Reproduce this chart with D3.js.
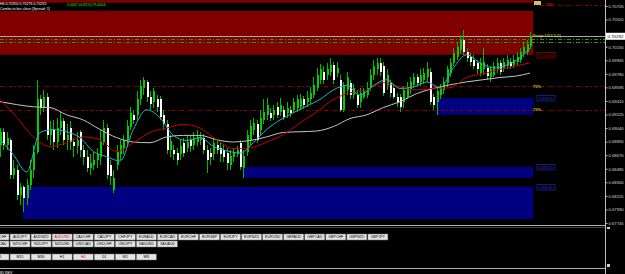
<!DOCTYPE html>
<html>
<head>
<meta charset="utf-8">
<script src="https://cdn.jsdelivr.net/npm/d3@7"></script>
<style>
html, body { margin: 0; padding: 0; background: #000; overflow: hidden; }
svg { display: block; font-family: "Liberation Sans", Arial, sans-serif; }
</style>
</head>
<body>
<svg id="chart" width="625" height="274"></svg>
<script>
// AUDUSD H4 candles
const open = [
  0.6881,0.6898,0.6881,0.6888,0.6840,0.6847,0.6813,0.6823,0.6809,0.6827,
  0.6847,0.6872,0.6943,0.6932,0.6947,0.6895,0.6902,0.6885,0.6904,0.6913,
  0.6888,0.6904,0.6885,0.6879,0.6898,0.6874,0.6865,0.6850,0.6854,0.6861,
  0.6864,0.6885,0.6904,0.6854,0.6820,0.6854,0.6868,0.6877,0.6888,0.6906,
  0.6922,0.6922,0.6943,0.6959,0.6967,0.6947,0.6939,0.6943,0.6943,0.6922,
  0.6909,0.6874,0.6874,0.6870,0.6868,0.6884,0.6877,0.6888,0.6881,0.6885,
  0.6888,0.6891,0.6874,0.6870,0.6868,0.6881,0.6877,0.6874,0.6870,0.6854,
  0.6865,0.6868,0.6884,0.6850,0.6872,0.6888,0.6902,0.6909,0.6902,0.6915,
  0.6922,0.6925,0.6922,0.6933,0.6926,0.6929,0.6925,0.6929,0.6929,0.6932,
  0.6933,0.6943,0.6939,0.6943,0.6949,0.6959,0.6970,0.6981,0.6977,0.6981,
  0.6990,0.6979,0.6970,0.6929,0.6956,0.6966,0.6949,0.6949,0.6939,0.6947,
  0.6949,0.6959,0.6977,0.6984,0.6993,0.6988,0.6963,0.6966,0.6959,0.6947,
  0.6947,0.6939,0.6947,0.6956,0.6963,0.6973,0.6967,0.6970,0.6973,0.6981,
  0.6947,0.6940,0.6949,0.6956,0.6966,0.6979,0.6993,0.7001,0.7011,0.7024,
  0.7008,0.7001,0.6997,0.6993,0.6979,0.6984,0.6986,0.6973,0.6977,0.6984,
  0.6993,0.6986,0.6989,0.6994,0.6990,0.6994,0.6997,0.7007,0.7008,0.7016
];
const high = [
  0.6904,0.6904,0.6899,0.6891,0.6861,0.6854,0.6829,0.6827,0.6834,0.6861,
  0.6881,0.6970,0.6949,0.6956,0.6952,0.6913,0.6915,0.6918,0.6926,0.6918,
  0.6909,0.6913,0.6891,0.6899,0.6902,0.6881,0.6874,0.6868,0.6872,0.6877,
  0.6902,0.6915,0.6909,0.6861,0.6847,0.6881,0.6888,0.6895,0.6915,0.6933,
  0.6929,0.6954,0.6970,0.6974,0.6970,0.6954,0.6959,0.6949,0.6948,0.6929,
  0.6915,0.6895,0.6881,0.6877,0.6888,0.6891,0.6895,0.6894,0.6899,0.6902,
  0.6899,0.6896,0.6881,0.6877,0.6891,0.6888,0.6885,0.6881,0.6877,0.6874,
  0.6877,0.6880,0.6888,0.6874,0.6902,0.6915,0.6918,0.6915,0.6929,0.6943,
  0.6945,0.6932,0.6936,0.6940,0.6945,0.6934,0.6939,0.6934,0.6945,0.6949,
  0.6951,0.6948,0.6954,0.6960,0.6973,0.6986,0.6992,0.6989,0.6993,0.7000,
  0.6994,0.6994,0.6977,0.6967,0.6981,0.6970,0.6964,0.6956,0.6959,0.6959,
  0.6967,0.6984,0.6997,0.7000,0.7000,0.6994,0.6984,0.6970,0.6964,0.6952,
  0.6951,0.6962,0.6967,0.6973,0.6979,0.6978,0.6984,0.6986,0.6994,0.6986,
  0.6951,0.6959,0.6964,0.6973,0.6989,0.7000,0.7013,0.7022,0.7031,0.7038,
  0.7013,0.7007,0.7003,0.6997,0.7000,0.7013,0.6992,0.6989,0.6994,0.7000,
  0.6997,0.7000,0.7004,0.7000,0.7003,0.7008,0.7013,0.7020,0.7024,0.7035
];
const low = [
  0.6864,0.6874,0.6874,0.6834,0.6834,0.6806,0.6799,0.6790,0.6799,0.6820,
  0.6836,0.6868,0.6922,0.6926,0.6888,0.6881,0.6874,0.6877,0.6895,0.6881,
  0.6874,0.6874,0.6864,0.6868,0.6864,0.6854,0.6844,0.6840,0.6847,0.6850,
  0.6854,0.6881,0.6834,0.6827,0.6816,0.6847,0.6861,0.6868,0.6881,0.6902,
  0.6909,0.6915,0.6936,0.6949,0.6940,0.6929,0.6932,0.6926,0.6915,0.6902,
  0.6868,0.6864,0.6861,0.6854,0.6861,0.6864,0.6872,0.6872,0.6874,0.6879,
  0.6881,0.6868,0.6843,0.6854,0.6861,0.6868,0.6858,0.6858,0.6847,0.6847,
  0.6858,0.6864,0.6847,0.6836,0.6866,0.6881,0.6895,0.6884,0.6895,0.6909,
  0.6915,0.6913,0.6915,0.6918,0.6921,0.6915,0.6918,0.6919,0.6924,0.6926,
  0.6929,0.6930,0.6933,0.6937,0.6945,0.6954,0.6964,0.6964,0.6970,0.6975,
  0.6964,0.6973,0.6926,0.6926,0.6949,0.6943,0.6943,0.6932,0.6932,0.6943,
  0.6945,0.6954,0.6970,0.6977,0.6975,0.6948,0.6956,0.6947,0.6943,0.6933,
  0.6926,0.6932,0.6943,0.6951,0.6959,0.6960,0.6962,0.6964,0.6967,0.6936,
  0.6929,0.6922,0.6944,0.6951,0.6960,0.6974,0.6988,0.6997,0.7005,0.7004,
  0.6994,0.6989,0.6984,0.6978,0.6975,0.6977,0.6970,0.6967,0.6973,0.6979,
  0.6977,0.6981,0.6984,0.6985,0.6986,0.6990,0.6993,0.7001,0.7004,0.7012
];
const close = [
  0.6898,0.6881,0.6891,0.6840,0.6850,0.6813,0.6823,0.6809,0.6827,0.6847,
  0.6872,0.6943,0.6932,0.6947,0.6895,0.6902,0.6885,0.6904,0.6913,0.6888,
  0.6895,0.6885,0.6879,0.6888,0.6874,0.6865,0.6850,0.6857,0.6861,0.6868,
  0.6885,0.6904,0.6840,0.6838,0.6836,0.6872,0.6881,0.6888,0.6907,0.6924,
  0.6915,0.6943,0.6962,0.6970,0.6947,0.6937,0.6954,0.6933,0.6919,0.6909,
  0.6874,0.6887,0.6868,0.6861,0.6880,0.6870,0.6885,0.6879,0.6891,0.6892,
  0.6892,0.6874,0.6861,0.6864,0.6884,0.6874,0.6868,0.6865,0.6857,0.6866,
  0.6872,0.6874,0.6851,0.6866,0.6894,0.6907,0.6911,0.6888,0.6918,0.6926,
  0.6936,0.6918,0.6929,0.6922,0.6936,0.6919,0.6932,0.6925,0.6939,0.6943,
  0.6943,0.6936,0.6945,0.6952,0.6963,0.6977,0.6984,0.6970,0.6984,0.6990,
  0.6970,0.6986,0.6929,0.6963,0.6973,0.6949,0.6959,0.6936,0.6952,0.6954,
  0.6959,0.6977,0.6988,0.6993,0.6981,0.6952,0.6977,0.6952,0.6947,0.6939,
  0.6933,0.6956,0.6960,0.6967,0.6973,0.6966,0.6977,0.6979,0.6984,0.6940,
  0.6936,0.6954,0.6959,0.6967,0.6984,0.6993,0.7007,0.7015,0.7024,0.7008,
  0.7000,0.6994,0.6988,0.6984,0.6993,0.6994,0.6975,0.6984,0.6988,0.6993,
  0.6981,0.6994,0.6997,0.6989,0.6997,0.7001,0.7008,0.7015,0.7019,0.70292
];

// moving averages, sampled every few bars
const maIdx = [0,5,10,15,20,25,30,35,40,45,50,55,60,65,70,75,80,85,90,95,100,105,110,115,120,125,130,135,140,145,150,155,159];
const maSlow = [0.6940,0.6936,0.6933,0.6932,0.6922,0.6915,0.6902,0.6891,0.6885,0.6884,0.6892,0.6894,0.6894,0.6888,0.6885,0.6887,0.6892,0.6898,0.6899,0.6900,0.6906,0.6917,0.6922,0.6932,0.6940,0.6951,0.6958,0.6963,0.6967,0.6970,0.6973,0.6975,0.6979];
const maMid = [0.6943,0.6919,0.6892,0.6879,0.6884,0.6892,0.6888,0.6872,0.6884,0.6898,0.6904,0.6909,0.6904,0.6888,0.6876,0.6877,0.6885,0.6895,0.6911,0.6926,0.6943,0.6952,0.6956,0.6966,0.6960,0.6956,0.6958,0.6959,0.6973,0.6978,0.6984,0.6989,0.6993];
const fastIdx = [0,4,8,12,16,20,24,28,32,36,40,44,48,52,56,60,64,68,72,76,80,84,88,92,96,100,104,108,112,116,120,124,128,132,136,140,144,148,152,156,159];
const maFast = [0.6888,0.6868,0.6844,0.6898,0.6902,0.6899,0.6891,0.6872,0.6865,0.6859,0.6902,0.6929,0.6918,0.6894,0.6887,0.6891,0.6879,0.6873,0.6870,0.6884,0.6902,0.6915,0.6925,0.6934,0.6943,0.6956,0.6962,0.6949,0.6962,0.6970,0.6958,0.6960,0.6967,0.6959,0.6986,0.7004,0.6993,0.6986,0.6990,0.7000,0.7013];

// supply / demand zones
const zoneStart  = [-10, -10, 131, 73, 7];
const zoneTop    = [0.7095, 0.7064, 0.6945, 0.6851, 0.6824];
const zoneBottom = [0.7075, 0.7004, 0.6922, 0.6836, 0.6780];
const zoneKind   = ["supply", "supply", "demand", "demand", "demand"];
const zoneLabel  = [false, true, true, true, true];

// horizontal levels
const redLevels = [0.7072, 0.69607, 0.69290];
const redLevelText = ["7051", "75%", "75%"];
const greenLevels = [0.70254, 0.70208];
const bid = 0.70292;

const priceTicks = [0.70705,0.70520,0.70335,0.70150,0.69965,0.69780,0.69595,0.69410,0.69225,0.69040,0.68855,0.68670,0.68485,0.68300,0.68115,0.67930,0.67745];

const pairsRow1 = ["AUDCHF","AUDJPY","AUDNZD","AUDUSD","CADCHF","CADJPY","CHFJPY","EURAUD","EURCAD","EURCHF","EURGBP","EURJPY","EURNZD","EURUSD","GBPAUD","GBPCAD","GBPCHF","GBPNZD","GBPJPY"];
const pairsRow2 = ["NZDCAD","NZDCHF","NZDJPY","NZDUSD","USDCAD","USDCHF","USDJPY","XAUUSD","XAUAUD"];
const timeframes = ["M5","M15","M30","H1","H4","D1","W1","MN"];
const activePair = "AUDUSD", activeTf = "H4";

const svg = d3.select("#chart");
const fmt = d3.format(".5f");

var x = d3.scaleLinear().domain([0, close.length - 1]).range([0, 530]);
var y = d3.scaleLinear().domain([0.67745, 0.70705]).range([223, 6]);

svg.append("rect").attr("width", 625).attr("height", 274).attr("fill", "#000");

svg.append("clipPath").attr("id", "plot").append("rect")
  .attr("x", 0).attr("y", 0).attr("width", 605).attr("height", 225);
var plot = svg.append("g").attr("clip-path", "url(#plot)");

// zones
plot.selectAll(".zone").data(zoneTop).enter().append("rect")
  .attr("class", "zone")
  .attr("x", (d, i) => x(zoneStart[i]) - 0.5)
  .attr("y", d => y(d))
  .attr("width", (d, i) => x(close.length) - x(zoneStart[i]) + 0.5)
  .attr("height", (d, i) => y(zoneBottom[i]) - y(d))
  .attr("fill", (d, i) => zoneKind[i] == "supply" ? "#800000" : "#000080");

// levels
plot.selectAll(".rlev").data(redLevels).enter().append("line")
  .attr("x1", 0).attr("x2", 605)
  .attr("y1", d => Math.round(y(d)) + 0.5).attr("y2", d => Math.round(y(d)) + 0.5)
  .attr("stroke", "#8a0000").attr("stroke-dasharray", "4,2,1,2");
plot.selectAll(".glev").data(greenLevels).enter().append("line")
  .attr("x1", 0).attr("x2", 605)
  .attr("y1", d => Math.round(y(d)) + 0.5).attr("y2", d => Math.round(y(d)) + 0.5)
  .attr("stroke", "#1c9a1c").attr("stroke-dasharray", "4,2,1,2");
plot.append("line")
  .attr("x1", 0).attr("x2", 605)
  .attr("y1", Math.round(y(bid)) + 0.5).attr("y2", Math.round(y(bid)) + 0.5)
  .attr("stroke", "#a8a8a8");

// candles
var candles = plot.append("g").attr("shape-rendering", "crispEdges");
var bars = candles.selectAll("g").data(close).enter().append("g");
bars.append("line")
  .attr("x1", (d, i) => Math.round(x(i)) + 0.5).attr("x2", (d, i) => Math.round(x(i)) + 0.5)
  .attr("y1", (d, i) => y(high[i])).attr("y2", (d, i) => y(low[i]))
  .attr("stroke", "#00b800");
bars.append("rect")
  .attr("x", (d, i) => Math.round(x(i)))
  .attr("y", (d, i) => y(Math.max(open[i], d)))
  .attr("width", 2)
  .attr("height", (d, i) => Math.max(1, Math.abs(y(open[i]) - y(d))))
  .attr("fill", (d, i) => d >= open[i] ? "#00d000" : "#ffffff");

// moving averages
var maLine = d3.line().x(d => x(d[0])).y(d => y(d[1])).curve(d3.curveMonotoneX);
plot.append("path").datum(maIdx.map((v, i) => [v, maSlow[i]]))
  .attr("d", maLine).attr("fill", "none").attr("stroke", "#c4c4c4");
plot.append("path").datum(maIdx.map((v, i) => [v, maMid[i]]))
  .attr("d", maLine).attr("fill", "none").attr("stroke", "#c80000");
plot.append("path").datum(fastIdx.map((v, i) => [v, maFast[i]]))
  .attr("d", maLine).attr("fill", "none").attr("stroke", "#1ab8c0");

// zone labels
var zl = plot.selectAll(".zl").data(zoneTop.filter((d, i) => zoneLabel[i]).map((d, k) => {
  var i = zoneLabel.indexOf(true) + k;
  return { i: i, p: zoneKind[i] == "supply" ? zoneBottom[i] : zoneTop[i] };
})).enter().append("g")
  .attr("transform", d => "translate(537," + (Math.round(y(d.p)) - 2.5) + ")");
zl.append("rect").attr("width", 18).attr("height", 5.5)
  .attr("fill", "none").attr("stroke", d => zoneKind[d.i] == "supply" ? "#a00000" : "#2020c0").attr("stroke-width", 0.7);
zl.append("text").attr("x", 9).attr("y", 4.3).attr("text-anchor", "middle")
  .attr("font-size", 3.8).attr("fill", d => zoneKind[d.i] == "supply" ? "#b00000" : "#3030d0")
  .text(d => fmt(d.p));

// level tags
plot.selectAll(".lt").data(redLevels).enter().append("text")
  .attr("x", (d, i) => i == 0 ? 545 : 533)
  .attr("y", d => y(d) + 1.5)
  .attr("font-size", 4).attr("font-weight", "bold")
  .attr("fill", (d, i) => i == 0 ? "#c00000" : "#c8c000")
  .text((d, i) => redLevelText[i]);
plot.append("rect").attr("x", 534).attr("y", 1).attr("width", 7).attr("height", 4).attr("fill", "#c8c070");
plot.append("text").attr("x", 533).attr("y", 36.5).attr("font-size", 3.6).attr("fill", "#e0e000")
  .text("Range:1313.3 (1)");

// title lines
plot.append("rect").attr("x", 0).attr("y", 3).attr("width", 533).attr("height", 8).attr("fill", "#000");
svg.append("text").attr("x", 0).attr("y", 5).attr("font-size", 3.6).attr("fill", "#fff")
  .text("H4  0.70350 0.70276 0.70292");
svg.append("text").attr("x", 67).attr("y", 5.5).attr("font-size", 3.6).attr("fill", "#00ff00")
  .text("0.0057 (0.81%) 79.4054");
svg.append("text").attr("x", 0).attr("y", 10).attr("font-size", 3.6).attr("fill", "#fff")
  .text("Combo to bar close [Spread: 1]");

// price axis (the tick hidden under the bid box is dropped)
var axis = d3.axisRight(y)
  .tickValues(priceTicks.filter(t => Math.abs(y(t) - y(bid)) > 5))
  .tickSize(2).tickPadding(1).tickFormat(fmt);
var ax = svg.append("g").attr("transform", "translate(605.5,0)").call(axis);
ax.select(".domain").remove();
ax.selectAll("line").attr("stroke", "#c0c0c0");
ax.selectAll("text").attr("fill", "#d8d8d8").attr("font-size", 4.2).attr("font-family", "Liberation Sans, Arial");
svg.append("line").attr("x1", 605.5).attr("x2", 605.5).attr("y1", 0).attr("y2", 274).attr("stroke", "#c0c0c0");

// current price box
svg.append("rect").attr("x", 606).attr("y", y(bid) - 3.5).attr("width", 19).attr("height", 7).attr("fill", "#fff");
svg.append("text").attr("x", 607.5).attr("y", y(bid) + 1.6).attr("font-size", 4.4).attr("fill", "#000")
  .text(fmt(bid));

// frame lines below the chart
svg.append("line").attr("x1", 0).attr("x2", 605).attr("y1", 225.5).attr("y2", 225.5).attr("stroke", "#b0b0b0");
svg.append("line").attr("x1", 0).attr("x2", 605).attr("y1", 227.5).attr("y2", 227.5).attr("stroke", "#404040");
svg.append("line").attr("x1", 0).attr("x2", 605).attr("y1", 268.5).attr("y2", 268.5).attr("stroke", "#b0b0b0");
svg.append("rect").attr("x", 607).attr("y", 227).attr("width", 3).attr("height", 2).attr("fill", "#d0d0d0");
svg.append("rect").attr("x", 607).attr("y", 264).attr("width", 3).attr("height", 3).attr("fill", "#d0d0d0");

// symbol / timeframe buttons
var btnX = d3.scaleLinear().domain([0, 1]).range([-11, 10.05]);
function buttonRow(labels, top, active) {
  var b = svg.append("g").selectAll("g").data(labels).enter().append("g")
    .attr("transform", (d, i) => "translate(" + btnX(i) + "," + top + ")");
  b.append("rect").attr("width", 20).attr("height", 6)
    .attr("fill", "#e4e4e4").attr("stroke", "#777").attr("stroke-width", 0.5);
  b.append("text").attr("x", 10).attr("y", 4.3).attr("text-anchor", "middle")
    .attr("font-size", 3.6).attr("fill", d => d == active ? "#e00000" : "#000")
    .text(d => d);
}
buttonRow(pairsRow1, 234, activePair);
buttonRow(pairsRow2, 241, activePair);
buttonRow(timeframes, 254, activeTf);

svg.append("text").attr("x", 0).attr("y", 273.5).attr("font-size", 3.6).attr("fill", "#fff").text("85 REV");
</script>
</body>
</html>
